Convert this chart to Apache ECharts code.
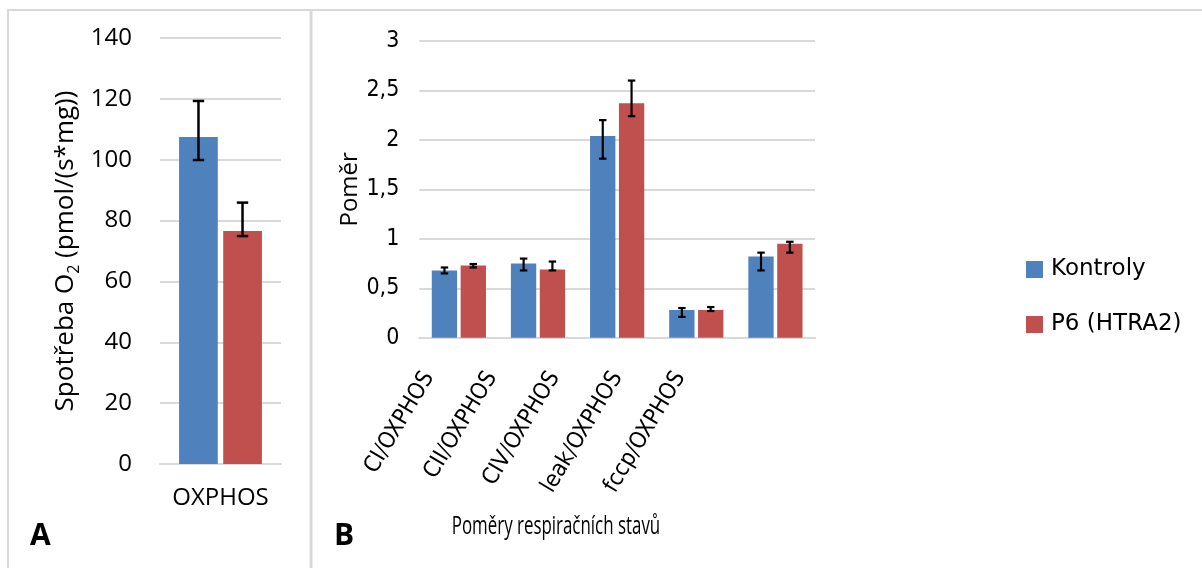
<!DOCTYPE html>
<html>
<head>
<meta charset="utf-8">
<script src="https://cdn.jsdelivr.net/npm/echarts@6/dist/echarts.min.js"></script>
<style>
  html, body { margin: 0; padding: 0; background: #fff; }
  #chart { width: 1202px; height: 568px; }
</style>
</head>
<body>
<div id="chart"></div>
<script>
// Panel A: absolute OXPHOS oxygen consumption
const oxCategories = ['OXPHOS'];
const oxKontroly = [107.5];
const oxKontrolyLow = [99.9];
const oxKontrolyHigh = [119.3];
const oxP6 = [76.6];
const oxP6Low = [74.9];
const oxP6High = [85.9];
const oxTicks = [0, 20, 40, 60, 80, 100, 120, 140];

// Panel B: ratios of respiratory states
const ratioCategories = ['CI/OXPHOS', 'CII/OXPHOS', 'CIV/OXPHOS', 'leak/OXPHOS', 'fccp/OXPHOS'];
const ratioKontroly = [0.68, 0.75, 2.04, 0.28, 0.82];
const ratioKontrolyLow = [0.65, 0.68, 1.81, 0.21, 0.68];
const ratioKontrolyHigh = [0.71, 0.80, 2.20, 0.30, 0.86];
const ratioP6 = [0.73, 0.69, 2.37, 0.28, 0.95];
const ratioP6Low = [0.71, 0.68, 2.24, 0.27, 0.86];
const ratioP6High = [0.745, 0.77, 2.60, 0.31, 0.97];
const ratioTicks = [0, 0.5, 1, 1.5, 2, 2.5, 3];

const seriesNames = ['Kontroly', 'P6 (HTRA2)'];
const ratioTitle = 'Poměry respiračních stavů';
const BLUE = '#4F81BD';
const RED = '#C0504D';
const GRID_GRAY = '#D9D9D9';
const SANS = '"Open Sans", sans-serif';
const NARROW = '"DejaVu Sans Condensed", sans-serif';

function errData(low, high) {
  return low.map((l, i) => [i, l, high[i]]);
}

// whisker drawn next to its bar: side -1 = first bar of the pair, +1 = second
function errorBar(side, lineWidth) {
  return function (params, api) {
    const cat = api.value(0);
    const catW = api.size([1, 0])[0];
    const x = api.coord([cat, 0])[0] + side * catW * 0.182;
    const yLo = api.coord([cat, api.value(1)])[1];
    const yHi = api.coord([cat, api.value(2)])[1];
    const hw = catW * 0.047;
    const style = { stroke: '#000', lineWidth: lineWidth };
    return {
      type: 'group',
      children: [
        { type: 'line', shape: { x1: x, y1: yLo, x2: x, y2: yHi }, style },
        { type: 'line', shape: { x1: x - hw, y1: yHi, x2: x + hw, y2: yHi }, style },
        { type: 'line', shape: { x1: x - hw, y1: yLo, x2: x + hw, y2: yLo }, style }
      ]
    };
  };
}

const chart = echarts.init(document.getElementById('chart'), null, { renderer: 'canvas' });

const tickFmt = v => String(v).replace('.', ',');

chart.setOption({
  animation: false,
  backgroundColor: '#fff',
  color: [BLUE, RED],
  textStyle: { fontFamily: SANS, color: '#000' },
  legend: {
    orient: 'vertical',
    left: 1026,
    top: 258,
    padding: 0,
    itemWidth: 17,
    itemHeight: 17,
    itemGap: 32,
    icon: 'rect',
    data: seriesNames,
    textStyle: { fontFamily: '"DejaVu Sans", sans-serif', fontSize: 23, color: '#000', padding: [0, 0, 0, 3] }
  },
  grid: [
    { left: 160, width: 121, top: 38, height: 426 },
    { left: 419.3, width: 395.7, top: 41, height: 296.7 },
    { left: 397.6, width: 314, top: 41, height: 296.7 }
  ],
  xAxis: [
    {
      type: 'category', gridIndex: 0, data: oxCategories,
      axisLine: { lineStyle: { color: GRID_GRAY, width: 2 } },
      axisTick: { show: false },
      axisLabel: { fontSize: 24, color: '#000', margin: 22 }
    },
    {
      type: 'category', gridIndex: 1, data: ratioCategories,
      axisLine: { lineStyle: { color: GRID_GRAY, width: 2 } },
      axisTick: { show: false },
      axisLabel: { show: false }
    },
    {
      // rotated category labels for panel B
      type: 'category', gridIndex: 2, data: ratioCategories,
      axisLine: { show: false },
      axisTick: { show: false },
      axisLabel: { rotate: 59, fontSize: 23, fontFamily: NARROW, color: '#000', margin: 36 }
    }
  ],
  yAxis: [
    {
      type: 'value', gridIndex: 0, min: 0, max: 140, interval: 20,
      axisLine: { show: false }, axisTick: { show: false },
      splitLine: { lineStyle: { color: GRID_GRAY, width: 2 } },
      axisLabel: { fontSize: 24, color: '#000', margin: 28, formatter: v => oxTicks.includes(v) ? String(v) : '' },
      name: '{n|Spotřeba O}{s|2}{n| (pmol/(s*mg))}',
      nameLocation: 'middle',
      nameGap: 78,
      nameRotate: 90,
      nameTextStyle: {
        rich: {
          n: { fontSize: 26, lineHeight: 32, color: '#000', fontFamily: SANS },
          s: { fontSize: 16, lineHeight: 14, verticalAlign: 'bottom', color: '#000', fontFamily: SANS }
        }
      }
    },
    {
      type: 'value', gridIndex: 1, min: 0, max: 3, interval: 0.5,
      axisLine: { show: false }, axisTick: { show: false },
      splitLine: { lineStyle: { color: GRID_GRAY, width: 2 } },
      axisLabel: { fontSize: 23, fontFamily: NARROW, color: '#000', margin: 20, formatter: v => ratioTicks.includes(v) ? tickFmt(v) : '' },
      name: 'Poměr',
      nameLocation: 'middle',
      nameGap: 50,
      nameRotate: 90,
      nameTextStyle: { fontSize: 24, color: '#000' }
    },
    {
      type: 'value', gridIndex: 2, show: false
    }
  ],
  graphic: [
    { type: 'rect', left: 8, top: 9, shape: { width: 1194, height: 2 }, style: { fill: GRID_GRAY }, silent: true },
    { type: 'rect', left: 7, top: 9, shape: { width: 2, height: 559 }, style: { fill: GRID_GRAY }, silent: true },
    { type: 'rect', left: 309.5, top: 9, shape: { width: 3, height: 559 }, style: { fill: GRID_GRAY }, silent: true },
    { type: 'text', left: 30, top: 521, style: { text: 'A', fontSize: 30, fontWeight: 'bold', fontFamily: SANS, fill: '#000' } },
    { type: 'text', left: 334, top: 521, style: { text: 'B', fontSize: 30, fontWeight: 'bold', fontFamily: SANS, fill: '#000' } },
    // panel B axis title, set in a condensed face
    { type: 'text', x: 556, y: 527, scaleX: 0.65, silent: true,
      style: { text: ratioTitle, fontSize: 26, fontFamily: SANS, fill: '#000', align: 'center', verticalAlign: 'middle' } }
  ],
  series: [
    { name: seriesNames[0], type: 'bar', xAxisIndex: 0, yAxisIndex: 0, data: oxKontroly, barWidth: '32%', barGap: '14%', itemStyle: { color: BLUE } },
    { name: seriesNames[1], type: 'bar', xAxisIndex: 0, yAxisIndex: 0, data: oxP6, barWidth: '32%', barGap: '14%', itemStyle: { color: RED } },
    { type: 'custom', xAxisIndex: 0, yAxisIndex: 0, data: errData(oxKontrolyLow, oxKontrolyHigh), renderItem: errorBar(-1, 2.5), z: 5 },
    { type: 'custom', xAxisIndex: 0, yAxisIndex: 0, data: errData(oxP6Low, oxP6High), renderItem: errorBar(1, 2.5), z: 5 },

    { name: seriesNames[0], type: 'bar', xAxisIndex: 1, yAxisIndex: 1, data: ratioKontroly, barWidth: '32%', barGap: '14%', itemStyle: { color: BLUE } },
    { name: seriesNames[1], type: 'bar', xAxisIndex: 1, yAxisIndex: 1, data: ratioP6, barWidth: '32%', barGap: '14%', itemStyle: { color: RED } },
    { type: 'custom', xAxisIndex: 1, yAxisIndex: 1, data: errData(ratioKontrolyLow, ratioKontrolyHigh), renderItem: errorBar(-1, 2.2), z: 5 },
    { type: 'custom', xAxisIndex: 1, yAxisIndex: 1, data: errData(ratioP6Low, ratioP6High), renderItem: errorBar(1, 2.2), z: 5 }
  ]
});
</script>
</body>
</html>
